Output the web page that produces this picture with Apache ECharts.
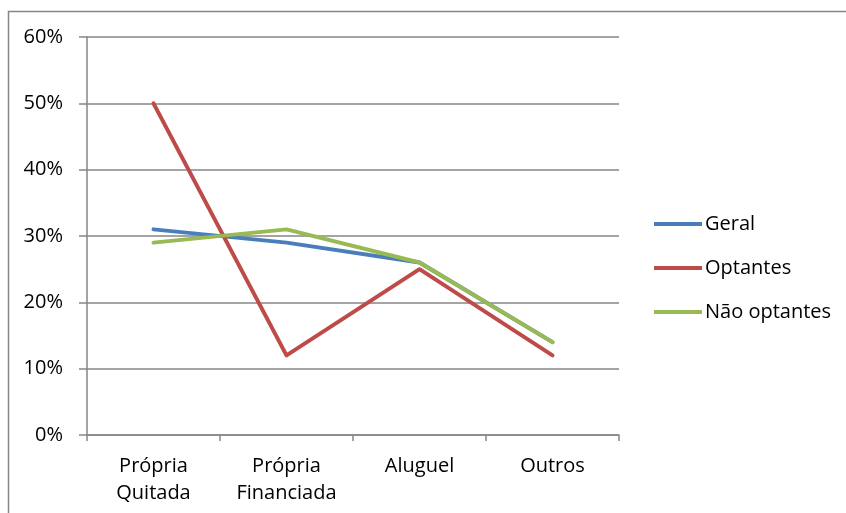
<!DOCTYPE html>
<html>
<head>
<meta charset="utf-8">
<script src="https://cdn.jsdelivr.net/npm/echarts@6/dist/echarts.min.js"></script>
<style>
  html, body { margin: 0; padding: 0; background: #fff; }
  #chart { width: 846px; height: 513px; }
</style>
</head>
<body>
<div id="chart"></div>
<script>
// Housing situation shares (%)
const categories = ['Própria\nQuitada', 'Própria\nFinanciada', 'Aluguel', 'Outros'];
const geral = [31, 29, 26, 14];
const optantes = [50, 12, 25, 12];
const naoOptantes = [29, 31, 26, 14];
const yTicks = [0, 10, 20, 30, 40, 50, 60];

const FONT = 'Open Sans';
const GRAY = '#868686';
const FS = 20;

const chart = echarts.init(document.getElementById('chart'), null, { renderer: 'canvas' });

function lineSeries(name, data, color) {
  return {
    name: name,
    type: 'line',
    data: data,
    symbol: 'none',
    lineStyle: { color: color, width: 4, cap: 'round', join: 'round' },
    itemStyle: { color: color },
    emphasis: { disabled: true },
    animation: false
  };
}

chart.setOption({
  backgroundColor: '#fff',
  animation: false,
  textStyle: { fontFamily: FONT },
  graphic: [{
    type: 'rect',
    shape: { x: 8.5, y: 11.5, width: 900, height: 600 },
    style: { fill: 'none', stroke: GRAY, lineWidth: 1.5 },
    silent: true
  }],
  grid: { left: 87, right: 227, top: 37, bottom: 78, containLabel: false },
  legend: {
    orient: 'vertical',
    left: 654,
    top: 214,
    padding: 0,
    itemWidth: 48,
    itemHeight: 4,
    itemGap: 24,
    icon: 'rect',
    textStyle: { fontFamily: FONT, fontSize: FS, color: '#000', padding: [0, 0, 0, -2] },
    data: ['Geral', 'Optantes', 'Não optantes']
  },
  xAxis: {
    type: 'category',
    data: categories,
    boundaryGap: true,
    axisLine: { lineStyle: { color: GRAY, width: 1.5 } },
    axisTick: { show: true, length: 6, lineStyle: { color: GRAY, width: 1.5 } },
    axisLabel: { color: '#000', fontFamily: FONT, fontSize: FS, lineHeight: 27, margin: 18, interval: 0 },
    splitLine: { show: false }
  },
  yAxis: {
    type: 'value',
    min: 0,
    max: 60,
    interval: 10,
    axisLine: { show: true, lineStyle: { color: GRAY, width: 1.5 } },
    axisTick: { show: true, length: 8, lineStyle: { color: GRAY, width: 1.5 } },
    axisLabel: {
      color: '#000', fontFamily: FONT, fontSize: FS, margin: 24,
      formatter: function (v) { return yTicks.indexOf(v) >= 0 ? v + '%' : ''; }
    },
    splitLine: { show: true, lineStyle: { color: GRAY, width: 1.5 } }
  },
  series: [
    lineSeries('Geral', geral, '#4A7EBB'),
    lineSeries('Optantes', optantes, '#BE4B48'),
    lineSeries('Não optantes', naoOptantes, '#98B954')
  ]
});
</script>
</body>
</html>
